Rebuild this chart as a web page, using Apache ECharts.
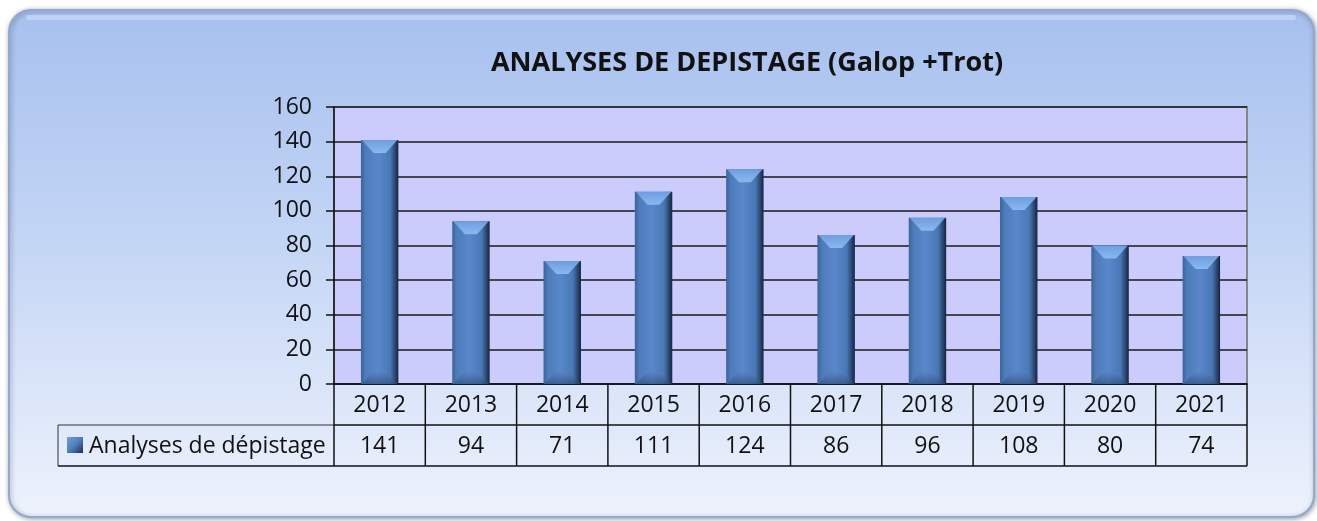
<!DOCTYPE html>
<html>
<head>
<meta charset="utf-8">
<script src="https://cdn.jsdelivr.net/npm/echarts@6/dist/echarts.min.js"></script>
<style>
  html, body { margin: 0; padding: 0; background: #ffffff; }
  #chart { width: 1317px; height: 521px; }
</style>
</head>
<body>
<div id="chart"></div>
<script>
// data
const years = ['2012', '2013', '2014', '2015', '2016', '2017', '2018', '2019', '2020', '2021'];
const analyses = [141, 94, 71, 111, 124, 86, 96, 108, 80, 74];
const yTicks = [0, 20, 40, 60, 80, 100, 120, 140, 160];
const seriesName = 'Analyses de dépistage';

const W = 1317, H = 521;
const gridLeft = 334, gridRight = 1247, gridTop = 107, gridBottom = 384;
const rowH = 41;
const legendLeft = 58;
const font = '"Open Sans", "Noto Sans", sans-serif';
const txtSize = 23;

const chart = echarts.init(document.getElementById('chart'));

function barItem(params, api) {
    const top = api.coord([api.value(0), api.value(1)]);
    const base = api.coord([api.value(0), 0]);
    const w = api.size([1, 0])[0] * 0.41;
    const x = top[0] - w / 2;
    const y = top[1];
    const h = base[1] - top[1];
    return {
        type: 'group',
        children: [
            {
                type: 'rect',
                shape: { x: x, y: y, width: w, height: h },
                style: {
                    fill: new echarts.graphic.LinearGradient(0, 0, 1, 0, [
                        { offset: 0, color: '#3b6399' },
                        { offset: 0.12, color: '#4d7cba' },
                        { offset: 0.45, color: '#5888cb' },
                        { offset: 0.78, color: '#4a78b6' },
                        { offset: 0.9, color: '#2d4c78' },
                        { offset: 1, color: '#16243b' }
                    ])
                }
            },
            { // top bevel, lighter face
                type: 'polygon',
                shape: { points: [[x + 1, y], [x + w - 1, y], [x + w * 0.66, y + 13], [x + w * 0.34, y + 13]] },
                style: {
                    fill: new echarts.graphic.LinearGradient(0, 0, 0, 1, [
                        { offset: 0, color: '#6c9ee0' },
                        { offset: 1, color: '#8ab8f0' }
                    ])
                }
            },
            { // bottom bevel, soft shading
                type: 'polygon',
                shape: { points: [[x + 1, base[1]], [x + w - 1, base[1]], [x + w * 0.7, base[1] - 12], [x + w * 0.3, base[1] - 12]] },
                style: {
                    fill: new echarts.graphic.LinearGradient(0, 0, 0, 1, [
                        { offset: 0, color: 'rgba(90,130,190,0.5)' },
                        { offset: 1, color: 'rgba(40,70,115,0.6)' }
                    ])
                }
            }
        ]
    };
}

// data table below the plot, built from the arrays
function tableGraphics() {
    const els = [];
    const colW = (gridRight - gridLeft) / years.length;
    const line = { stroke: '#111', lineWidth: 1.5 };
    const r1 = gridBottom, r2 = gridBottom + rowH, r3 = gridBottom + 2 * rowH;
    els.push({ type: 'line', shape: { x1: gridLeft, y1: r2, x2: gridRight, y2: r2 }, style: line });
    els.push({ type: 'line', shape: { x1: legendLeft, y1: r2, x2: gridLeft, y2: r2 }, style: { stroke: '#333', lineWidth: 1 } });
    els.push({ type: 'line', shape: { x1: legendLeft, y1: r3, x2: gridRight, y2: r3 }, style: line });
    els.push({ type: 'line', shape: { x1: legendLeft, y1: r2, x2: legendLeft, y2: r3 }, style: { stroke: '#333', lineWidth: 1 } });
    for (let i = 0; i <= years.length; i++) {
        const xx = gridLeft + i * colW;
        els.push({ type: 'line', shape: { x1: xx, y1: r1, x2: xx, y2: r3 }, style: line });
    }
    years.forEach((yr, i) => {
        const cx = gridLeft + (i + 0.5) * colW;
        els.push({ type: 'text', x: cx, y: (r1 + r2) / 2 + 1, style: { text: yr, font: txtSize + 'px ' + font, fill: '#111', align: 'center', verticalAlign: 'middle' } });
        els.push({ type: 'text', x: cx, y: (r2 + r3) / 2 + 1, style: { text: String(analyses[i]), font: txtSize + 'px ' + font, fill: '#111', align: 'center', verticalAlign: 'middle' } });
    });
    // legend key
    els.push({
        type: 'rect', shape: { x: 67, y: 437, width: 16, height: 16 },
        style: {
            fill: new echarts.graphic.LinearGradient(0, 0, 1, 1, [
                { offset: 0, color: '#6d9ddc' }, { offset: 0.5, color: '#4f7fbf' }, { offset: 1, color: '#1d2f4f' }
            ])
        }
    });
    els.push({ type: 'text', x: 89, y: (r2 + r3) / 2 + 1, style: { text: seriesName, font: txtSize + 'px ' + font, fill: '#111', align: 'left', verticalAlign: 'middle' } });
    return els;
}

const option = {
    animation: false,
    backgroundColor: '#ffffff',
    title: {
        text: 'ANALYSES DE DEPISTAGE (Galop +Trot)',
        left: 742, top: 45, textAlign: 'center',
        textStyle: { fontFamily: font, fontWeight: 'bold', fontSize: 27, color: '#111' }
    },
    grid: {
        left: gridLeft, right: W - gridRight, top: gridTop, bottom: H - gridBottom,
        show: true, backgroundColor: '#ccccfc', borderColor: '#858585', borderWidth: 2
    },
    xAxis: {
        type: 'category',
        data: years,
        axisLine: { show: true, lineStyle: { color: '#111', width: 1.5 } },
        axisTick: { show: false },
        axisLabel: { show: false }
    },
    yAxis: {
        type: 'value',
        min: yTicks[0], max: yTicks[yTicks.length - 1], interval: 20,
        axisLine: { show: true, lineStyle: { color: '#111', width: 1.5 } },
        axisTick: { show: true, length: 8, lineStyle: { color: '#111', width: 1.5 } },
        axisLabel: { fontFamily: font, fontSize: txtSize, color: '#111', margin: 22 },
        splitLine: { lineStyle: { color: '#1a1a1a', width: 1.5 } }
    },
    series: [{
        name: seriesName,
        type: 'custom',
        renderItem: barItem,
        encode: { x: 0, y: 1 },
        data: analyses.map((v, i) => [i, v]),
        z: 3
    }],
    graphic: [
        {
            type: 'rect', z: -10, silent: true,
            shape: { x: 9, y: 10, width: 1305, height: 507, r: 22 },
            style: {
                fill: new echarts.graphic.LinearGradient(0, 0, 0, 1, [
                    { offset: 0, color: '#a6c0ee' },
                    { offset: 0.45, color: '#c3d5f5' },
                    { offset: 1, color: '#eef3fc' }
                ]),
                stroke: '#8fa9d4', lineWidth: 2,
                shadowColor: 'rgba(0,0,0,0.35)', shadowBlur: 5, shadowOffsetX: 1, shadowOffsetY: 1
            }
        },
        {
            type: 'rect', z: -9, silent: true,
            shape: { x: 26, y: 15, width: 1270, height: 5, r: 2.5 },
            style: { fill: 'rgba(205,224,250,0.6)' }
        }
    ].concat(tableGraphics())
};

chart.setOption(option);
</script>
</body>
</html>
